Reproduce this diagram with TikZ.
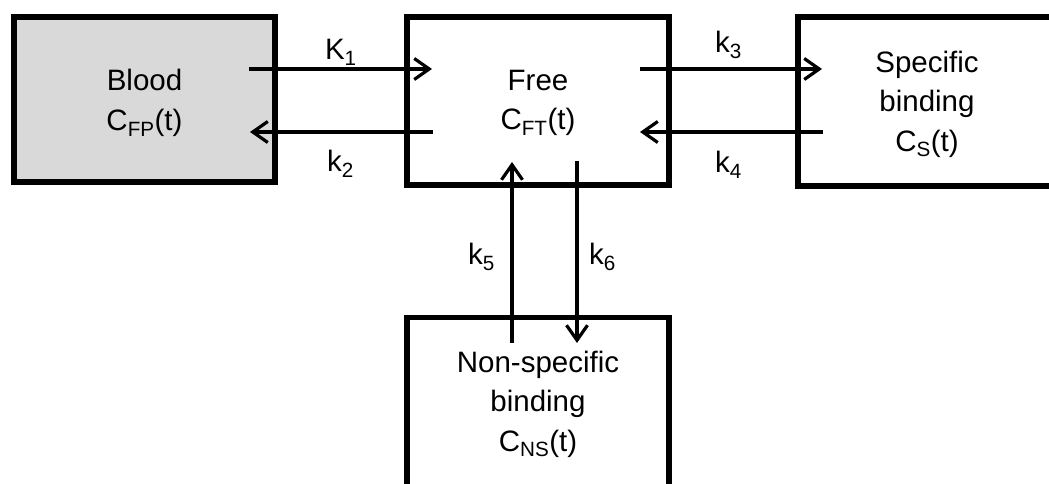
\documentclass[tikz,border=0pt]{standalone}
\usepackage{fontspec}
\setmainfont{Liberation Sans}
\usetikzlibrary{arrows.meta,calc}
\tikzset{
  box/.style={draw=black, line width=5.5pt, rectangle, inner sep=0pt, outer sep=0pt},
  txt/.style={inner sep=0pt, outer sep=0pt, align=center, font=\fontsize{29.5}{39.5}\selectfont},
  lbl/.style={inner sep=0pt, outer sep=0pt, anchor=base west, font=\fontsize{29.5}{39.5}\selectfont},
  arr/.style={line width=3.2pt, -{Straight Barb[length=15pt,width=21pt]}}
}
\begin{document}
\begin{tikzpicture}[x=1pt,y=1pt]
\clip (0,0) rectangle (1049,484);
\fill[white] (0,0) rectangle (1049,484);
% boxes
\node[box, fill=gray!30, minimum width=261pt, minimum height=165pt] (blood) at (144.5,384.5) {};
\node[box, minimum width=262pt, minimum height=168pt] (free) at (538,383) {};
\node[box, minimum width=272pt, minimum height=169pt] (spec) at (934,382.5) {};
\node[box, minimum width=262pt, minimum height=182.5pt] (ns) at (538,75.25) {};
% texts
\node[txt] (bloodtxt) at (144.5,381) {Blood\\C\textsubscript{FP}(t)};
\node[txt] (freetxt) at (538,381) {Free\\C\textsubscript{FT}(t)};
\node[txt] (spectxt) at (927,380) {Specific\\binding\\C\textsubscript{S}(t)};
\node[txt] (nstxt) at (538,80) {Non-specific\\binding\\C\textsubscript{NS}(t)};
% arrows
\draw[arr] ($(blood.east)+(-26,30.5)$) -- ($(free.west)+(25,32)$);
\draw[arr] ($(free.west)+(26,-31)$) -- ($(blood.east)+(-25,-32.5)$);
\draw[arr] ($(free.east)+(-29,32)$) -- ($(spec.west)+(24,32.5)$);
\draw[arr] ($(spec.west)+(25,-30.5)$) -- ($(free.east)+(-29,-31)$);
\draw[arr] ($(ns.north)+(-26,-25.5)$) -- ($(free.south)+(-26,23)$);
\draw[arr] ($(free.south)+(39,24)$) -- ($(ns.north)+(39,-25.5)$);
% rate labels
\node[lbl] (k1) at (325,424) {K\textsubscript{1}};
\node[lbl] (k2) at (327,312) {k\textsubscript{2}};
\node[lbl] (k3) at (715,431) {k\textsubscript{3}};
\node[lbl] (k4) at (715,311) {k\textsubscript{4}};
\node[lbl] (k5) at (468,219) {k\textsubscript{5}};
\node[lbl] (k6) at (589,219) {k\textsubscript{6}};
\end{tikzpicture}
\end{document}
